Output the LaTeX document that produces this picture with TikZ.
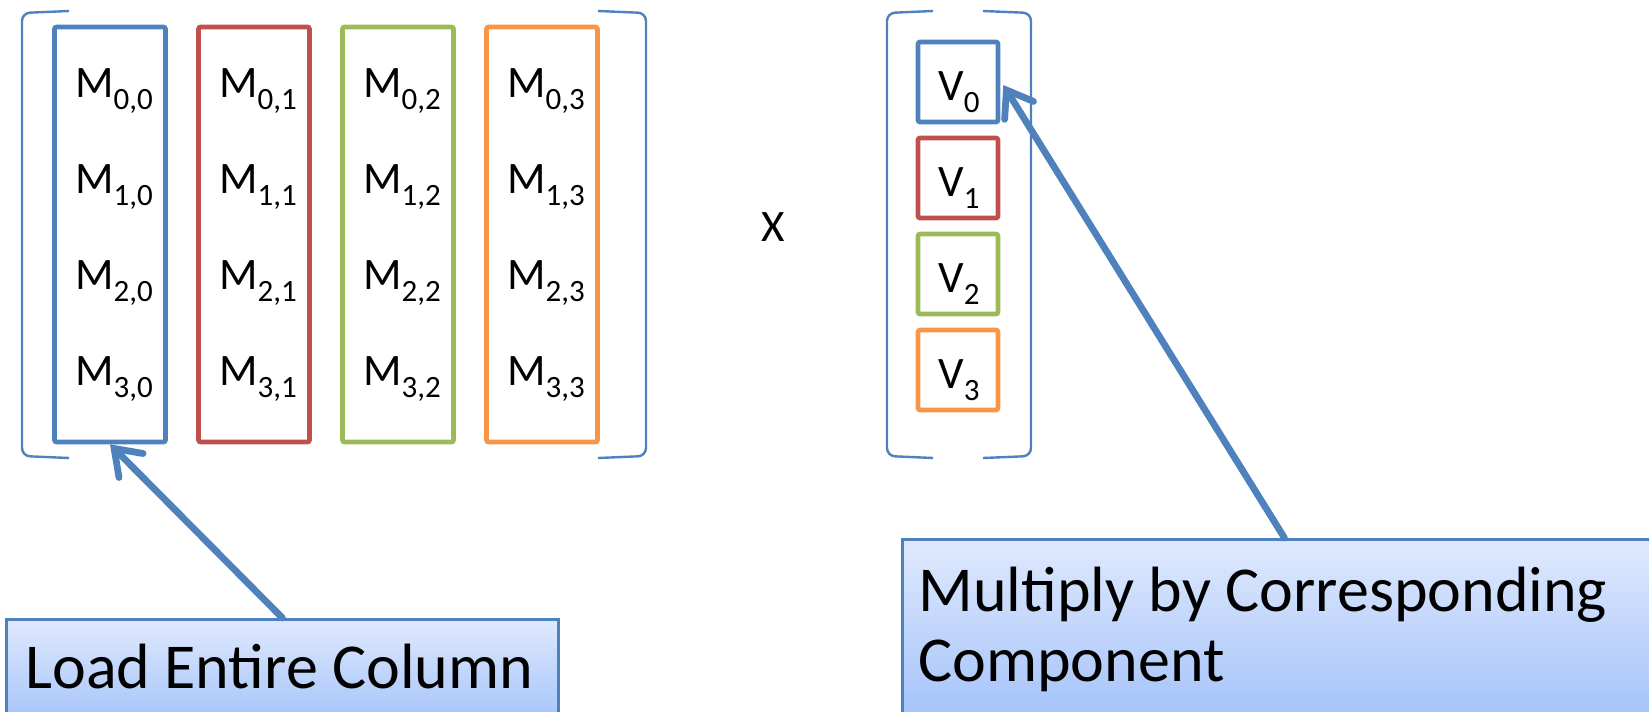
\documentclass[tikz,border=0pt]{standalone}
\usepackage{fontspec}
\setmainfont{Carlito}
\usepackage{tikz}
\usetikzlibrary{arrows.meta,calc,positioning}
\definecolor{accblue}{RGB}{79,129,189}
\definecolor{accred}{RGB}{192,80,77}
\definecolor{accgreen}{RGB}{155,187,89}
\definecolor{accorange}{RGB}{247,150,70}
\definecolor{calltop}{RGB}{223,233,253}
\definecolor{callbot}{RGB}{160,192,250}

\newcommand{\entry}[2]{#1\raisebox{-6pt}{\fontsize{15.5}{18}\selectfont #2}}

\tikzset{
  colbox/.style={draw=#1, line width=2.3pt, rounded corners=1pt, minimum width=55.5pt, minimum height=207.5pt, inner sep=0pt},
  vecbox/.style={draw=#1, line width=2.3pt, rounded corners=1pt, minimum size=40pt, inner sep=0pt},
  elem/.style={anchor=base, inner sep=0pt, font=\fontsize{22.5}{27}\selectfont},
  bracket/.style={draw=accblue, line width=1.2pt, rounded corners=4pt},
  callout/.style={draw=accblue, line width=1.5pt, top color=calltop, bottom color=callbot, inner sep=0pt, anchor=north west},
  calltext/.style={anchor=base west, inner sep=0pt, align=left, font=\fontsize{32}{35}\selectfont},
  callarrow/.style={draw=accblue, line width=3.4pt, line cap=round, line join=round, -{Straight Barb[length=12pt, width=17pt, line cap=round]}}
}

\begin{document}
\begin{tikzpicture}[x=0.5pt, y=-0.5pt]
  \useasboundingbox (0,0) rectangle (1649,712);
  % Draw matrix brackets
  \draw[bracket] (69,11) -- (22,13) -- (22,456) -- (69,458);
  \draw[bracket] (598,11) -- (646,13) -- (646,456) -- (598,458);
  % Draw vector brackets
  \draw[bracket] (933,11) -- (887,13) -- (887,456) -- (933,458);
  \draw[bracket] (983,11) -- (1031,13) -- (1031,456) -- (983,458);
  % Columns, entries and vector components
  \foreach \c/\col in {0/accblue,1/accred,2/accgreen,3/accorange} {
    \node[colbox=\col] (col\c) at ({110+144*\c},234.5) {};
    \foreach \r in {0,...,3}
      \node[elem] (m\r\c) at ({114+144*\c},{97+96*\r}) {\entry{M}{\r,\c}};
    \node[vecbox=\col] (v\c) at (958,{82+96*\c}) {};
    \node[elem] (vt\c) at (959,{100+96*\c}) {\entry{V}{\c}};
  }
  % Times sign
  \node[elem] (times) at (773,241) {X};
  % Callout boxes
  \node[callout, minimum width=276pt, minimum height=56pt] (loadbox) at (5,618) {};
  \node[callout, minimum width=382pt, minimum height=96pt] (multbox) at (901,538) {};
  \node[calltext] (loadtxt) at (25,688) {Load Entire Column};
  \node[calltext] (multtxt) at (918,681) {Multiply by Corresponding\\Component};
  % Arrows
  \draw[callarrow] (loadbox.north) -- (col0.south);
  \draw[callarrow] (multbox.north) -- ($(v0.east)+(3,3)$);
\end{tikzpicture}
\end{document}
